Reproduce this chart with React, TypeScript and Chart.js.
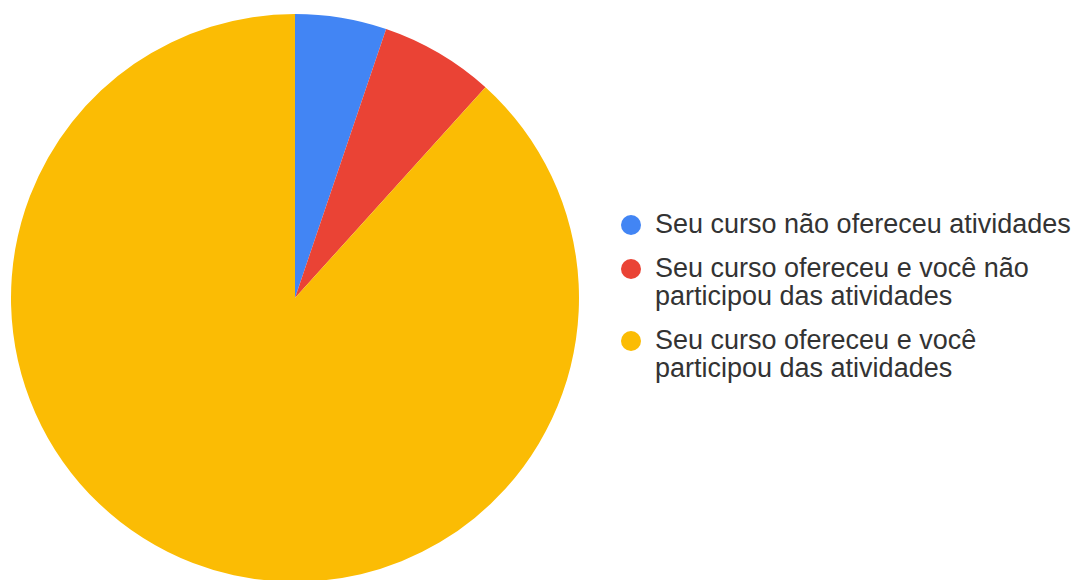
import React, { useEffect, useRef } from "react";
import { Chart, registerables } from "chart.js";

Chart.register(...registerables);

const categories: string[][] = [
  ["Seu curso não ofereceu atividades"],
  ["Seu curso ofereceu e você não", "participou das atividades"],
  ["Seu curso ofereceu e você", "participou das atividades"],
];
const values: number[] = [5.2, 6.5, 88.3];
const colors: string[] = ["#4285F4", "#EA4335", "#FBBC04"];

export default function App() {
  const ref = useRef<HTMLCanvasElement | null>(null);

  useEffect(() => {
    document.body.style.margin = "0";
    document.body.style.overflow = "hidden";
    if (!ref.current) return;
    const chart = new Chart(ref.current, {
      type: "pie",
      data: {
        labels: categories.map((c) => c.join(" ")),
        datasets: [
          {
            data: values,
            backgroundColor: colors,
            borderWidth: 0,
          },
        ],
      },
      options: {
        animation: false,
        responsive: false,
        maintainAspectRatio: false,
        layout: { padding: 0 },
        plugins: {
          legend: { display: false },
          tooltip: { enabled: false },
        },
      },
    });
    return () => chart.destroy();
  }, []);

  return (
    <div
      style={{
        position: "relative",
        width: 1077,
        height: 580,
        overflow: "hidden",
        background: "#fff",
      }}
    >
      <canvas
        ref={ref}
        width={568}
        height={568}
        style={{ position: "absolute", left: 11, top: 14, width: 568, height: 568 }}
      />
      <div
        style={{
          position: "absolute",
          left: 621,
          top: 210,
          fontFamily: "'Liberation Sans', Arial, sans-serif",
          fontSize: 27,
          lineHeight: "28px",
          color: "#333",
        }}
      >
        {categories.map((lines, i) => (
          <div
            key={i}
            style={{ position: "relative", paddingLeft: 34, marginBottom: 16 }}
          >
            <span
              style={{
                position: "absolute",
                left: 0,
                top: 5,
                width: 20,
                height: 20,
                borderRadius: "50%",
                background: colors[i],
              }}
            />
            {lines.map((l, j) => (
              <div key={j} style={{ whiteSpace: "nowrap" }}>
                {l}
              </div>
            ))}
          </div>
        ))}
      </div>
    </div>
  );
}
